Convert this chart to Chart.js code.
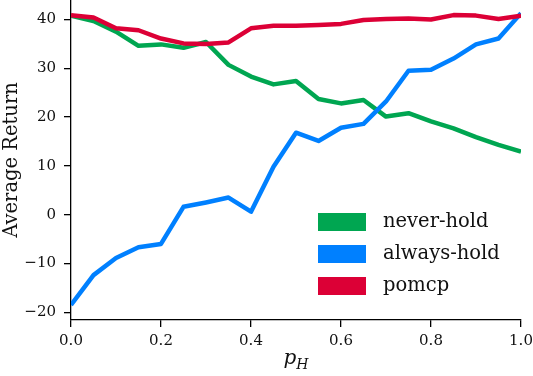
<!DOCTYPE html>
<html>
<head>
<meta charset="utf-8">
<script src="https://cdn.jsdelivr.net/npm/chart.js@4.4.1/dist/chart.umd.min.js"></script>
<style>
  html, body { margin: 0; padding: 0; background: #fff; }
  #wrap { width: 533px; height: 376px; position: relative; }
</style>
</head>
<body>
<div id="wrap"><canvas id="c" width="533" height="376"></canvas></div>
<script>
const pH = [0.0, 0.05, 0.1, 0.15, 0.2, 0.25, 0.3, 0.35, 0.4, 0.45, 0.5, 0.55, 0.6, 0.65, 0.7, 0.75, 0.8, 0.85, 0.9, 0.95, 1.0];
const neverHold = [40.8, 39.7, 37.5, 34.6, 34.9, 34.2, 35.4, 30.7, 28.3, 26.7, 27.4, 23.7, 22.8, 23.5, 20.1, 20.8, 19.1, 17.7, 15.9, 14.3, 12.9];
const alwaysHold = [-18.5, -12.4, -8.9, -6.7, -6.0, 1.6, 2.5, 3.5, 0.6, 9.8, 16.8, 15.1, 17.8, 18.6, 23.2, 29.5, 29.7, 32.0, 34.9, 36.1, 41.3];
const pomcp = [40.9, 40.4, 38.2, 37.8, 36.1, 35.1, 35.0, 35.3, 38.2, 38.7, 38.7, 38.9, 39.1, 39.9, 40.1, 40.2, 40.0, 40.9, 40.8, 40.1, 40.8];
const seriesNames = ['never-hold', 'always-hold', 'pomcp'];
const xTicks = [0.0, 0.2, 0.4, 0.6, 0.8, 1.0];
const yTicks = [-20, -10, 0, 10, 20, 30, 40];
const yTitle = 'Average Return';
const xTitleMain = 'p';
const xTitleSub = 'H';

const colors = ['#00a651', '#0080ff', '#dc0036'];
const FONT = "'DejaVu Serif', serif";

const toPts = arr => arr.map((v, i) => ({ x: pH[i], y: v }));
const seriesData = [neverHold, alwaysHold, pomcp];

const datasets = seriesData.map((arr, i) => ({
  label: seriesNames[i],
  data: toPts(arr),
  borderColor: colors[i],
  backgroundColor: colors[i],
  borderWidth: 4.5,
  pointRadius: 0,
  tension: 0,
  borderJoinStyle: 'round',
  fill: false,
  order: 2 - i
}));

const legendPlugin = {
  id: 'innerLegend',
  afterDraw(chart) {
    const ctx = chart.ctx;
    const a = chart.chartArea;
    ctx.save();
    ctx.font = "19.5px " + FONT;
    ctx.textBaseline = 'middle';
    ctx.textAlign = 'left';
    seriesNames.forEach((name, i) => {
      const cy = a.bottom - 98 + i * 32;
      ctx.fillStyle = colors[i];
      ctx.fillRect(a.left + 247, cy - 9, 48, 18);
      ctx.fillStyle = '#111';
      ctx.fillText(name, a.left + 312, cy);
    });
    // x-axis title p_H
    const cx = (a.left + a.right) / 2;
    ctx.textBaseline = 'alphabetic';
    ctx.font = "italic 20px " + FONT;
    const wp = ctx.measureText(xTitleMain).width;
    ctx.font = "italic 14px " + FONT;
    const wh = ctx.measureText(xTitleSub).width;
    const x0 = cx - (wp + wh) / 2;
    ctx.font = "italic 20px " + FONT;
    ctx.fillText(xTitleMain, x0, 364);
    ctx.font = "italic 14px " + FONT;
    ctx.fillText(xTitleSub, x0 + wp, 369);
    ctx.restore();
  }
};

new Chart(document.getElementById('c'), {
  type: 'line',
  data: { datasets },
  options: {
    responsive: false,
    animation: false,
    layout: { padding: { left: 0, right: 12, top: 0, bottom: 0 } },
    plugins: { legend: { display: false }, tooltip: { enabled: false } },
    scales: {
      x: {
        type: 'linear',
        min: 0, max: 1,
        afterBuildTicks: s => { s.ticks = xTicks.map(v => ({ value: v })); },
        afterFit: s => { s.height = 56; s.paddingLeft = 0; s.paddingRight = 0; },
        grid: { drawOnChartArea: false, drawTicks: true, tickLength: 7, color: '#000', lineWidth: 1.3 },
        border: { display: true, color: '#000', width: 1.3 },
        ticks: {
          font: { family: FONT, size: 15 },
          color: '#111',
          padding: 5,
          maxRotation: 0,
          callback: v => Number(v).toFixed(1)
        }
      },
      y: {
        type: 'linear',
        min: -21.6, max: 44.0,
        afterBuildTicks: s => { s.ticks = yTicks.map(v => ({ value: v })); },
        afterFit: s => { s.width = 71; s.paddingTop = 0; s.paddingBottom = 0; },
        grid: { drawOnChartArea: false, drawTicks: true, tickLength: 7, color: '#000', lineWidth: 1.3 },
        border: { display: true, color: '#000', width: 1.3 },
        ticks: {
          font: { family: FONT, size: 15 },
          color: '#111',
          padding: 8,
          callback: v => String(v).replace('-', '\u2212')
        },
        title: {
          display: true,
          text: yTitle,
          font: { family: FONT, size: 19.5 },
          color: '#111',
          padding: 0
        }
      }
    }
  },
  plugins: [legendPlugin]
});
</script>
</body>
</html>
